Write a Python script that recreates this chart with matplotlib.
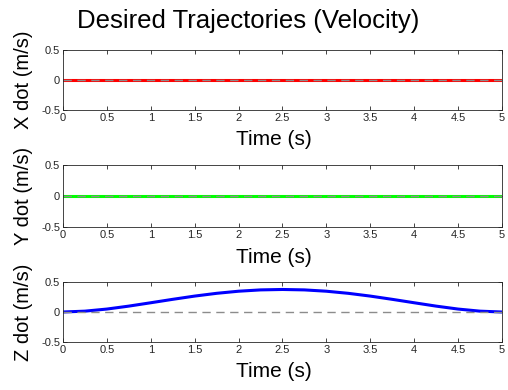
import numpy as np
import matplotlib
matplotlib.use("Agg")
import matplotlib.pyplot as plt

plt.rcParams['font.family'] = ['Liberation Sans', 'DejaVu Sans']

# time samples and velocities
t = [0, 0.25, 0.5, 0.75, 1.0, 1.25, 1.5, 1.75, 2.0, 2.25, 2.5,
     2.75, 3.0, 3.25, 3.5, 3.75, 4.0, 4.25, 4.5, 4.75, 5.0]
x_dot = [0.0] * len(t)
y_dot = [0.0] * len(t)
z_dot = [0.0, 0.014, 0.049, 0.098, 0.154, 0.211, 0.265, 0.311, 0.346, 0.368, 0.375,
         0.368, 0.346, 0.311, 0.265, 0.211, 0.154, 0.098, 0.049, 0.014, 0.0]

labels = ['X dot (m/s)', 'Y dot (m/s)', 'Z dot (m/s)']
colors = ['#ff0000', '#00ff00', '#0000ff']
series = [x_dot, y_dot, z_dot]
xticks = [0, 0.5, 1, 1.5, 2, 2.5, 3, 3.5, 4, 4.5, 5]
xticklabels = ['0', '0.5', '1', '1.5', '2', '2.5', '3', '3.5', '4', '4.5', '5']

fig = plt.figure(figsize=(5.08, 3.9), dpi=100)
boxes = [(0.124, 0.718, 0.864, 0.154),
         (0.124, 0.418, 0.864, 0.159),
         (0.124, 0.123, 0.864, 0.154)]

for i in range(3):
    ax = fig.add_axes(boxes[i])
    ax.plot(t, series[i], color=colors[i], lw=2.2)
    ax.plot([0, 5], [0, 0], '--', color='#8c8c8c', lw=1.0, dashes=(6, 4))
    ax.set_xlim(0, 5)
    ax.set_ylim(-0.5, 0.5)
    ax.set_xticks(xticks)
    ax.set_xticklabels(xticklabels)
    ax.set_yticks([-0.5, 0, 0.5])
    ax.set_yticklabels(['-0.5', '0', '0.5'])
    ax.tick_params(direction='in', top=True, right=True, length=3, width=0.6,
                   labelsize=8, colors='#262626', pad=2)
    for s in ax.spines.values():
        s.set_linewidth(0.6)
        s.set_color('#262626')
    ax.set_ylabel(labels[i], fontsize=14.5)
    ax.yaxis.set_label_coords(-0.068, 0.5)
    ax.set_xlabel('Time (s)', fontsize=15)
    ax.xaxis.set_label_coords(0.48, -0.34)

fig.text(248 / 508, 1 - 28 / 390, 'Desired Trajectories (Velocity)', fontsize=18.5,
         ha='center', va='baseline')

fig.savefig('out.png', dpi=100)
